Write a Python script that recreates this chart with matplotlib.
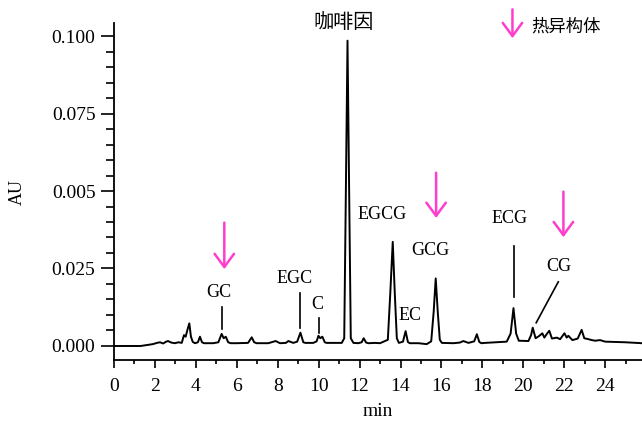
import matplotlib
matplotlib.use("Agg")
import matplotlib.pyplot as plt
from matplotlib.ticker import MultipleLocator, FixedLocator, FixedFormatter

# ---- data: chromatogram trace ----
time_min = [0.0, 1.3, 1.6, 1.9, 2.1, 2.25, 2.4, 2.55, 2.64, 2.8, 2.98, 3.15, 3.31, 3.42, 3.5,
            3.6, 3.68, 3.76, 3.85, 3.96, 4.1, 4.2, 4.3, 4.4, 4.85, 5.1, 5.26, 5.36, 5.46, 5.58,
            5.7, 6.0, 6.55, 6.73, 6.85, 6.97, 7.54, 7.9, 8.11, 8.4, 8.52, 8.76, 8.95, 9.11,
            9.25, 9.35, 9.74, 9.9, 9.99, 10.08, 10.18, 10.3, 10.39, 11.13, 11.25, 11.33, 11.41,
            11.49, 11.57, 11.7, 11.94, 12.1, 12.2, 12.32, 12.43, 12.76, 13.0, 13.38, 13.5,
            13.62, 13.72, 13.82, 13.92, 14.12, 14.25, 14.36, 14.45, 14.87, 15.28, 15.5, 15.62,
            15.72, 15.82, 15.92, 16.02, 16.58, 16.9, 17.07, 17.32, 17.6, 17.73, 17.85, 17.95,
            18.13, 19.19, 19.38, 19.52, 19.65, 19.78, 20.25, 20.38, 20.46, 20.6, 20.77, 20.93,
            21.03, 21.15, 21.27, 21.4, 21.64, 21.8, 22.01, 22.12, 22.2, 22.4, 22.66, 22.85,
            22.98, 23.18, 23.35, 23.51, 23.75, 24.0, 24.98, 25.8]
absorbance = [0.0, 0.0, 0.0003, 0.0006, 0.0010, 0.0012, 0.0008, 0.0014, 0.0016, 0.0011, 0.0009,
              0.0012, 0.0010, 0.0035, 0.0030, 0.0055, 0.0073, 0.0030, 0.0013, 0.0009, 0.0012,
              0.0030, 0.0012, 0.0009, 0.0009, 0.0012, 0.0039, 0.0025, 0.0030, 0.0012, 0.0009,
              0.0009, 0.0010, 0.0028, 0.0012, 0.0009, 0.0009, 0.0016, 0.0009, 0.0010, 0.0016,
              0.0010, 0.0014, 0.0043, 0.0012, 0.0010, 0.0010, 0.0015, 0.0033, 0.0025, 0.0030,
              0.0012, 0.0010, 0.0010, 0.0025, 0.050, 0.0985, 0.050, 0.0025, 0.0010, 0.0009,
              0.0012, 0.0025, 0.0011, 0.0009, 0.0010, 0.0009, 0.0020, 0.0170, 0.0336, 0.0170,
              0.0025, 0.0010, 0.0014, 0.0048, 0.0013, 0.0009, 0.0009, 0.0006, 0.0015, 0.0110,
              0.0218, 0.0110, 0.0020, 0.0010, 0.0009, 0.0011, 0.0016, 0.0010, 0.0015, 0.0038,
              0.0013, 0.0009, 0.0010, 0.0014, 0.0040, 0.0122, 0.0040, 0.0017, 0.0016, 0.0035,
              0.0059, 0.0025, 0.0032, 0.0041, 0.0027, 0.0039, 0.0049, 0.0024, 0.0027, 0.0022,
              0.0041, 0.0027, 0.0033, 0.0019, 0.0024, 0.0052, 0.0025, 0.0022, 0.0019, 0.0017,
              0.0019, 0.0014, 0.0012, 0.0009]

# peak labels: (text, x, y)
peak_labels = ["GC", "EGC", "C", "EGCG", "EC", "GCG", "ECG", "CG"]
label_x = [5.13, 8.80, 9.92, 13.11, 14.44, 15.44, 19.35, 21.73]
label_y = [0.0173, 0.0219, 0.0134, 0.0423, 0.0097, 0.0307, 0.0412, 0.0258]

# leader lines: ((x0, y0), (x1, y1))
leader_x0 = [5.28, 9.09, 10.03, 19.55, 21.71]
leader_y0 = [0.0127, 0.0170, 0.0091, 0.0323, 0.0207]
leader_x1 = [5.28, 9.09, 10.03, 19.55, 20.63]
leader_y1 = [0.0054, 0.0057, 0.0043, 0.0159, 0.0075]

# thermal-isomer arrows (x, tail y, tip y)
arrow_x = [5.39, 15.74, 21.96]
arrow_tail = [0.0398, 0.0559, 0.0498]
arrow_tip = [0.0248, 0.0413, 0.0351]

y_ticks = [0.0, 0.025, 0.05, 0.075, 0.1]
y_ticklabels = ["0.000", "0.025", "0.005", "0.075", "0.100"]
x_ticks = list(range(0, 26, 2))

caffeine_label = "咖啡因"
legend_label = "热异构体"

MAGENTA = "#ff3dcc"
CJK = ["Noto Sans CJK SC", "DejaVu Sans"]

plt.rcParams["font.family"] = ["Liberation Serif", "DejaVu Serif"]

fig = plt.figure(figsize=(6.42, 4.24), dpi=100)
ax = fig.add_axes([114 / 642, 1 - 360 / 424, (642 - 114) / 642, (360 - 23) / 424])

ax.plot(time_min, absorbance, color="black", lw=1.4, solid_joinstyle="round")

ax.set_xlim(0, 25.8)
ax.set_ylim(-0.00452, 0.1042)

for s in ["top", "right"]:
    ax.spines[s].set_visible(False)
for s in ["left", "bottom"]:
    ax.spines[s].set_linewidth(1.3)

ax.yaxis.set_major_locator(FixedLocator(y_ticks))
ax.yaxis.set_major_formatter(FixedFormatter(y_ticklabels))
ax.yaxis.set_minor_locator(MultipleLocator(0.005))
ax.xaxis.set_major_locator(FixedLocator(x_ticks))
ax.xaxis.set_major_formatter(FixedFormatter([str(v) for v in x_ticks]))
ax.xaxis.set_minor_locator(MultipleLocator(1))

ax.tick_params(axis="y", which="major", direction="out", length=9.4, width=1.2, labelsize=14, pad=4)
ax.tick_params(axis="y", which="minor", direction="out", length=5.8, width=1.2)
ax.tick_params(axis="x", which="major", direction="out", length=5.8, width=1.2, labelsize=14, pad=7)
ax.tick_params(axis="x", which="minor", direction="out", length=3, width=1.2)

ax.set_xlabel("min", fontsize=14, va="center")
ax.xaxis.set_label_coords(0.5, -(411 - 360) / 337)
ax.set_ylabel("AU", fontsize=13, va="center")
ax.yaxis.set_label_coords((17 - 114) / 528, (360 - 192) / 337)

for txt, x, y in zip(peak_labels, label_x, label_y):
    ax.text(x, y, txt, ha="center", va="center", fontsize=13)

for x0, y0, x1, y1 in zip(leader_x0, leader_y0, leader_x1, leader_y1):
    ax.plot([x0, x1], [y0, y1], color="black", lw=1.2)

arrow_props = dict(arrowstyle="->,head_length=0.95,head_width=0.7", color=MAGENTA,
                   lw=1.8, shrinkA=0, shrinkB=0, mutation_scale=10)
for x, yt, yh in zip(arrow_x, arrow_tail, arrow_tip):
    ax.annotate("", xy=(x, yh), xytext=(x, yt), arrowprops=arrow_props)

# legend-like key at top right
ax.annotate("", xy=(19.47, 0.0993), xytext=(19.47, 0.1086), arrowprops=arrow_props,
            annotation_clip=False)
ax.text(20.41, 0.1031, legend_label, ha="left", va="center", fontsize=12.5,
        family=CJK, clip_on=False)

ax.text(11.24, 0.1045, caffeine_label, ha="center", va="center", fontsize=14.5,
        family=CJK, clip_on=False)

fig.savefig("out.png", dpi=100)
